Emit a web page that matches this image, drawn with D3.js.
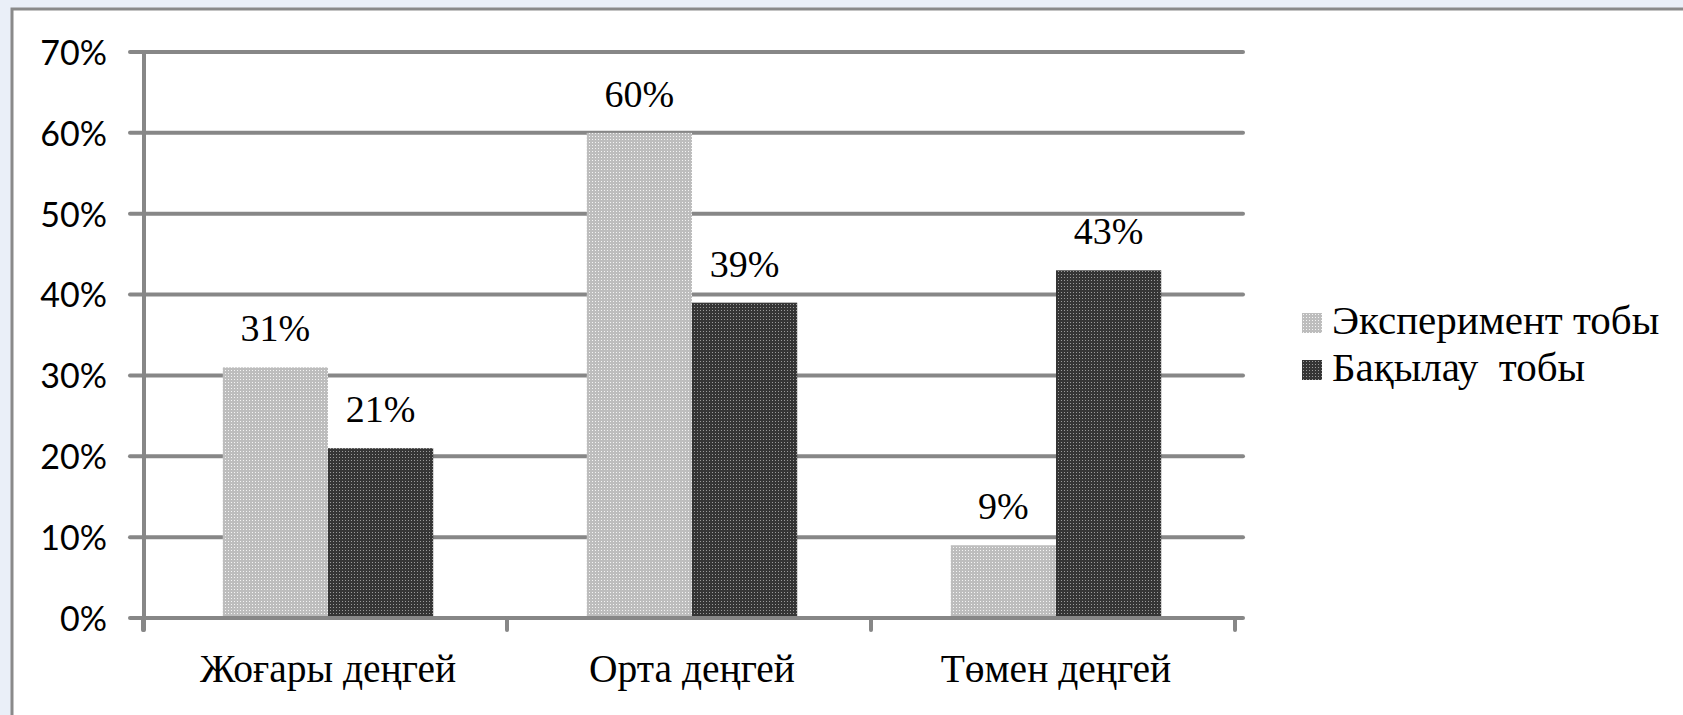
<!DOCTYPE html>
<html lang="kk">
<head>
<meta charset="UTF-8">
<title>Bar Chart</title>
<style>
  html, body { margin:0; padding:0; background:#eaeff8; }
  svg { display:block; }
  .grid line { stroke:#878787; stroke-width:4; stroke-linecap:round; }
</style>
</head>
<body>
<svg width="1683" height="715"></svg>
<script src="https://cdn.jsdelivr.net/npm/d3@7"></script>
<script>
var categories = ["Жоғары деңгей", "Орта деңгей", "Төмен деңгей"];
var series = ["Эксперимент тобы", "Бақылау  тобы"];
var experiment = [0.31, 0.60, 0.09];
var control = [0.21, 0.39, 0.43];
var yTicks = [0, 0.1, 0.2, 0.3, 0.4, 0.5, 0.6, 0.7];

var SERIF = "Liberation Serif";
var SANS = "Lato";

var values = [experiment, control];
var data = categories.map(function(c, i){
  return {cat:c, vals:series.map(function(s, j){ return {s:s, j:j, v:values[j][i]}; })};
});

var svg = d3.select("svg");

// panel
svg.append("rect").attr("x", 12).attr("y", 9).attr("width", 1700).attr("height", 720)
  .attr("fill", "#fff").attr("stroke", "#8a8a8a").attr("stroke-width", 3);

// textures for bars
var defs = svg.append("defs");
function dots(id, bg, dot){
  var p = defs.append("pattern").attr("id", id).attr("patternUnits", "userSpaceOnUse")
    .attr("width", 3).attr("height", 3);
  p.append("rect").attr("width", 3).attr("height", 3).attr("fill", bg);
  p.append("rect").attr("x", 1).attr("y", 1).attr("width", 1).attr("height", 1).attr("fill", dot);
}
dots("pLight", "#bdbdbd", "#f4f4f4");
dots("pDark", "#353535", "#9a9a9a");
var fills = ["url(#pLight)", "url(#pDark)"];

var x0 = d3.scaleBand().domain(categories).range([143, 1235]).padding(0);
var x1 = d3.scaleBand().domain(series).range([0, x0.bandwidth()]).paddingInner(0).paddingOuter(0.73);
var y = d3.scaleLinear().domain([0, 0.7]).range([618, 52]);

// gridlines + axes
var grid = svg.append("g").attr("class", "grid");
grid.selectAll("line.h").data(yTicks).enter().append("line").attr("class", "h")
  .attr("x1", 130).attr("x2", 1243)
  .attr("y1", function(d){ return y(d); }).attr("y2", function(d){ return y(d); });
grid.append("line").attr("x1", 144).attr("x2", 144).attr("y1", y(0.7)).attr("y2", 630);
grid.selectAll("line.t").data(categories.concat(["end"])).enter().append("line").attr("class", "t")
  .attr("x1", function(d, i){ return 143 + i * x0.step(); })
  .attr("x2", function(d, i){ return 143 + i * x0.step(); })
  .attr("y1", y(0)).attr("y2", 630);

svg.append("g").selectAll("text").data(yTicks).enter().append("text")
  .attr("font-family", SANS).attr("font-size", 34).attr("fill", "#000")
  .attr("text-anchor", "end")
  .attr("x", 107).attr("y", function(d){ return y(d); }).attr("dy", "0.38em")
  .text(d3.format(".0%"));

// bars
var g = svg.append("g").selectAll("g").data(data).enter().append("g")
  .attr("transform", function(d){ return "translate(" + (x0(d.cat) + 3) + ",0)"; });
g.selectAll("rect").data(function(d){ return d.vals; }).enter().append("rect")
  .attr("x", function(d){ return x1(d.s); })
  .attr("width", x1.bandwidth())
  .attr("y", function(d){ return y(d.v); })
  .attr("height", function(d){ return y(0) - y(d.v) - 2; })
  .attr("fill", function(d){ return fills[d.j]; });
g.selectAll("text").data(function(d){ return d.vals; }).enter().append("text")
  .attr("font-family", SERIF).attr("font-size", 38).attr("fill", "#000")
  .attr("text-anchor", "middle")
  .attr("x", function(d){ return x1(d.s) + x1.bandwidth() / 2; })
  .attr("y", function(d){ return y(d.v) - 26; })
  .text(function(d){ return d3.format(".0%")(d.v); });

// category labels
svg.append("g").selectAll("text").data(categories).enter().append("text")
  .attr("font-family", SERIF).attr("font-size", 39.5).attr("fill", "#000")
  .attr("text-anchor", "middle")
  .attr("x", function(d){ return x0(d) + x0.bandwidth() / 2 + 3; })
  .attr("y", 682)
  .text(function(d){ return d; });

// legend
var lg = svg.append("g").selectAll("g").data(series).enter().append("g")
  .attr("transform", function(d, i){ return "translate(1302," + (334 + i * 47) + ")"; });
lg.append("rect").attr("x", 0).attr("y", -21).attr("width", 20).attr("height", 20)
  .attr("fill", function(d, i){ return fills[i]; });
lg.append("text").attr("font-family", SERIF).attr("font-size", 41).attr("fill", "#000")
  .attr("x", 30).attr("y", 0)
  .style("white-space", "pre")
  .text(function(d){ return d; });
</script>
</body>
</html>
